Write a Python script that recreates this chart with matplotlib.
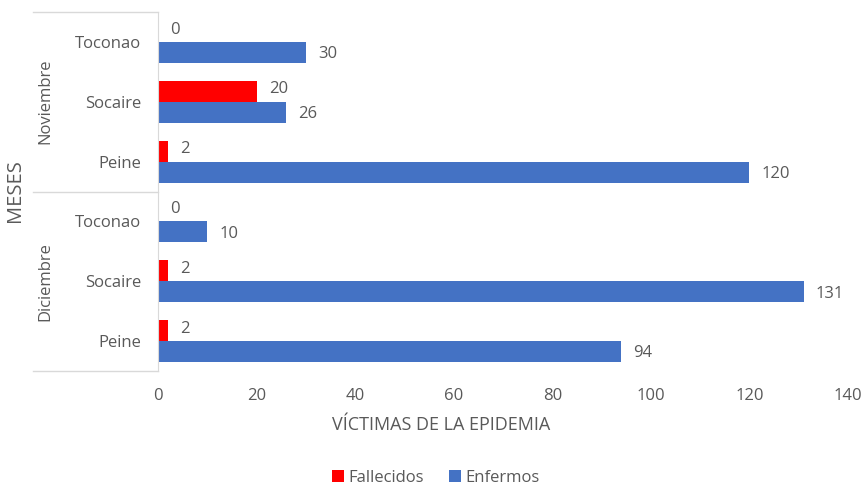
import matplotlib.pyplot as plt
import matplotlib.transforms as mtransforms
import numpy as np

meses = ['Noviembre', 'Diciembre']
lugares = ['Toconao', 'Socaire', 'Peine', 'Toconao', 'Socaire', 'Peine']
fallecidos = [0, 20, 2, 0, 2, 2]
enfermos = [30, 26, 120, 10, 131, 94]

rojo = '#ff0000'
azul = '#4472c4'
gris = '#595959'
linea = '#d9d9d9'

plt.rcParams['font.family'] = ['Open Sans', 'DejaVu Sans']

fig = plt.figure(figsize=(8.65, 4.87), dpi=100)
ax = fig.add_axes([158 / 865, 1 - 371 / 487, 690 / 865, 359 / 487])

y = np.arange(len(lugares))
h = 0.35
ax.barh(y - h / 2, fallecidos, height=h, color=rojo, label='Fallecidos')
ax.barh(y + h / 2, enfermos, height=h, color=azul, label='Enfermos')

for yi, v in zip(y, fallecidos):
    ax.text(v + 2.5, yi - h / 2 - 0.03, str(v), va='center', ha='left', fontsize=12, color=gris)
for yi, v in zip(y, enfermos):
    ax.text(v + 2.5, yi + h / 2 + 0.03, str(v), va='center', ha='left', fontsize=12, color=gris)

ax.set_xlim(0, 140)
ax.set_ylim(5.5, -0.5)
ax.set_xticks(range(0, 141, 20))
ax.set_yticks(y)
ax.set_yticklabels(lugares)
ax.tick_params(axis='both', length=0, labelsize=12, labelcolor=gris)
ax.tick_params(axis='y', pad=12)
ax.tick_params(axis='x', pad=12)

for s in ['top', 'right', 'bottom']:
    ax.spines[s].set_visible(False)
ax.spines['left'].set_color(linea)

# separadores de meses
trans = mtransforms.blended_transform_factory(fig.transFigure, ax.transData)
for ys in [-0.5, 2.5, 5.5]:
    ax.plot([33 / 865, 158 / 865], [ys, ys], color=linea, lw=1, transform=trans, clip_on=False)

for i, m in enumerate(meses):
    ax.text(45 / 865, 1 + 3 * i, m, rotation=90, ha='center', va='center',
            fontsize=12, color=gris, transform=trans)

fig.text(15 / 865, 1 - 191 / 487, 'MESES', rotation=90, ha='center', va='center',
         fontsize=14.5, color=gris)
fig.text(441 / 865, 1 - 425 / 487, 'VÍCTIMAS DE LA EPIDEMIA', ha='center', va='center',
         fontsize=13, color=gris)

fig.legend(loc='center', bbox_to_anchor=(436 / 865, 1 - 478 / 487), ncol=2, frameon=False,
           fontsize=12, handlelength=0.7, handleheight=0.7, handletextpad=0.3,
           columnspacing=1.5, labelcolor=gris, borderpad=0)

fig.savefig('out.png', dpi=100)
